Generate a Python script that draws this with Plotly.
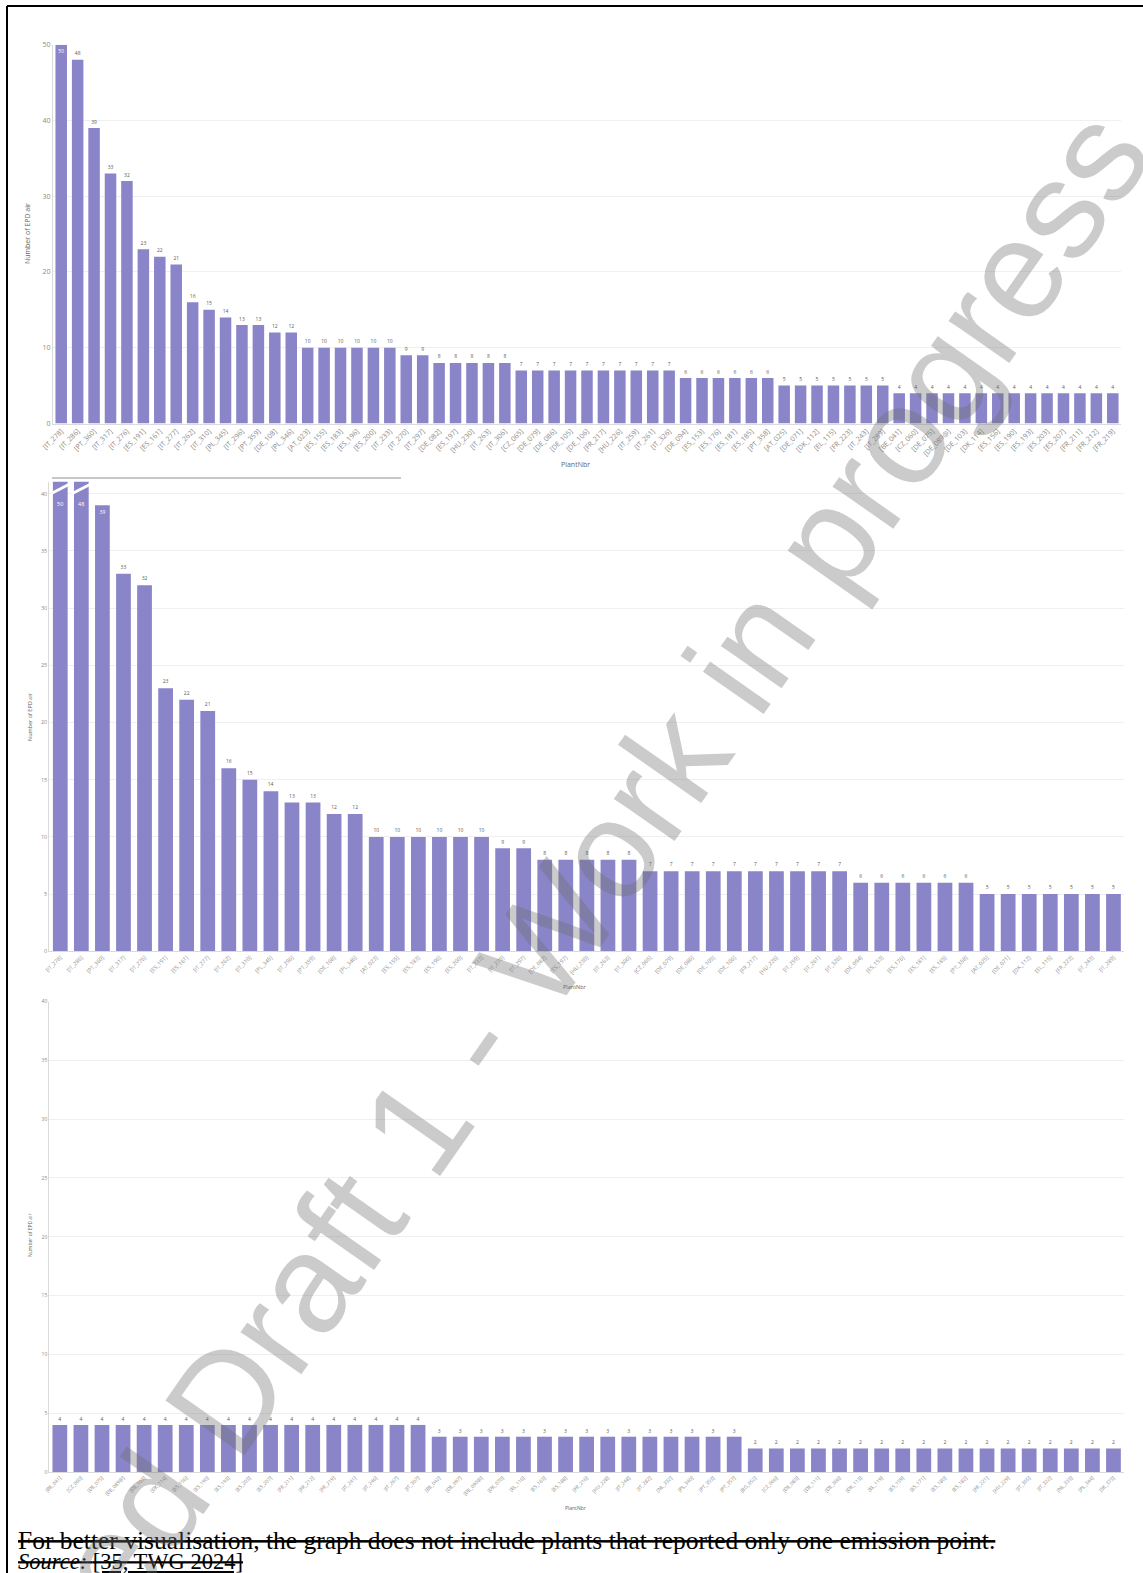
import plotly.graph_objects as go

W, H = 1143, 1573

# ---------------- data ----------------
p1_plants = ["[IT_278]", "[IT_286]", "[PT_360]", "[IT_317]", "[IT_276]", "[ES_191]", "[ES_161]", "[IT_277]",
             "[IT_262]", "[IT_310]", "[PL_345]", "[IT_296]", "[PT_359]", "[DE_108]", "[PL_346]", "[AT_023]",
             "[ES_155]", "[ES_183]", "[ES_196]", "[ES_200]", "[IT_233]", "[IT_270]", "[IT_297]", "[DE_082]",
             "[ES_197]", "[HU_230]", "[IT_263]", "[IT_306]", "[CZ_065]", "[DE_079]", "[DE_086]", "[DE_105]",
             "[DE_106]", "[FR_217]", "[HU_226]", "[IT_259]", "[IT_261]", "[IT_326]", "[DE_094]", "[ES_153]",
             "[ES_176]", "[ES_181]", "[ES_185]", "[PT_358]", "[AT_025]", "[DE_071]", "[DK_112]", "[EL_115]",
             "[FR_223]", "[IT_243]", "[IT_289]", "[BE_041]", "[CZ_060]", "[DE_075]", "[DE_089@]", "[DE_103]",
             "[DK_114]", "[ES_156]", "[ES_190]", "[ES_193]", "[ES_203]", "[ES_207]", "[FR_211]", "[FR_212]",
             "[FR_219]"]
p1_values = [50, 48, 39, 33, 32, 23, 22, 21, 16, 15, 14, 13, 13, 12, 12,
             10, 10, 10, 10, 10, 10,
             9, 9,
             8, 8, 8, 8, 8,
             7, 7, 7, 7, 7, 7, 7, 7, 7, 7,
             6, 6, 6, 6, 6, 6,
             5, 5, 5, 5, 5, 5, 5,
             4, 4, 4, 4, 4, 4, 4, 4, 4, 4, 4, 4, 4, 4]

p2_plants = ["[IT_278]", "[IT_286]", "[PT_360]", "[IT_317]", "[IT_276]", "[ES_191]", "[ES_161]", "[IT_277]",
             "[IT_262]", "[IT_310]", "[PL_345]", "[IT_296]", "[PT_359]", "[DE_108]", "[PL_346]", "[AT_023]",
             "[ES_155]", "[ES_183]", "[ES_196]", "[ES_200]", "[IT_233]", "[IT_270]", "[IT_297]", "[DE_082]",
             "[ES_197]", "[HU_230]", "[IT_263]", "[IT_306]", "[CZ_065]", "[DE_079]", "[DE_086]", "[DE_105]",
             "[DE_106]", "[FR_217]", "[HU_226]", "[IT_259]", "[IT_261]", "[IT_326]", "[DE_094]", "[ES_153]",
             "[ES_176]", "[ES_181]", "[ES_185]", "[PT_358]", "[AT_025]", "[DE_071]", "[DK_112]", "[EL_115]",
             "[FR_223]", "[IT_243]", "[IT_289]"]
p2_values = [50, 48, 39, 33, 32, 23, 22, 21, 16, 15, 14, 13, 13, 12, 12,
             10, 10, 10, 10, 10, 10,
             9, 9,
             8, 8, 8, 8, 8,
             7, 7, 7, 7, 7, 7, 7, 7, 7, 7,
             6, 6, 6, 6, 6, 6,
             5, 5, 5, 5, 5, 5, 5]

p3_plants = ["[BE_041]", "[CZ_060]", "[DE_075]", "[DE_089@]", "[DE_103]", "[DK_114]", "[ES_156]", "[ES_190]",
             "[ES_193]", "[ES_203]", "[ES_207]", "[FR_211]", "[FR_212]", "[FR_219]", "[IT_241]", "[IT_246]",
             "[IT_267]", "[IT_307]",
             "[BE_042]", "[DE_097]", "[DE_090@]", "[DK_070]", "[EL_116]", "[ES_163]", "[ES_188]", "[FR_216]",
             "[HU_228]", "[IT_248]", "[IT_282]", "[NL_332]", "[PL_340]", "[PT_353]", "[PT_357]",
             "[BG_052]", "[CZ_066]", "[DE_083]", "[DE_111]", "[DE_366]", "[DK_113]", "[EL_119]", "[ES_159]",
             "[ES_171]", "[ES_180]", "[ES_182]", "[FR_221]", "[HU_229]", "[IT_305]", "[IT_322]", "[NL_333]",
             "[PL_344]", "[SK_373]"]
p3_values = [4] * 18 + [3] * 15 + [2] * 18

y_title = "Number of EPD air"
x_title = "PlantNbr"
note_line = "For better visualisation, the graph does not include plants that reported only one emission point."
source_label = "Source:"
source_ref = "[35, TWG 2024]"
watermark = "Revised Draft 1 - Work in progress"

# ---------------- style ----------------
BAR = "#8985C8"
GRID = "#EFEFEF"
AXLINE = "#DADADA"
TICKC = "#8A8A8A"
LABC = "#5A5A5A"
FONT = "Open Sans"


def fx(px):
    return px / W


def fy(py):
    return 1 - py / H


fig = go.Figure()
annotations = []
shapes = []


def add_panel(idx, plants, values, xdom, ydom, yrange, dtick, n_inside, fs_tick, fs_lab):
    xa = "x" if idx == 1 else f"x{idx}"
    ya = "y" if idx == 1 else f"y{idx}"
    ymax = yrange[1]
    texts, pos = [], []
    for i, v in enumerate(values):
        if v > ymax:
            texts.append("")
            pos.append("none")
            annotations.append(dict(x=plants[i], y=ymax, xref=xa, yref=ya, text=str(v),
                                    showarrow=False, xanchor="center", yanchor="top", yshift=-16,
                                    font=dict(size=fs_lab, color="white", family=FONT)))
            shapes.append(dict(type="line", xref=xa, yref=ya,
                               x0=i - 0.45, x1=i + 0.45,
                               y0=ymax - 1.05, y1=ymax - 0.2,
                               line=dict(color="white", width=3)))
        else:
            texts.append(str(v))
            pos.append("inside" if i < n_inside else "outside")
    fig.add_trace(go.Bar(
        x=plants, y=values, xaxis=xa, yaxis=ya,
        marker=dict(color=BAR, line=dict(width=0)),
        text=texts, textposition=pos, textangle=0,
        insidetextanchor="end",
        insidetextfont=dict(size=fs_lab, color="white", family=FONT),
        outsidetextfont=dict(size=fs_lab, color=LABC, family=FONT),
        cliponaxis=False if idx != 2 else True,
        constraintext="none",
        showlegend=False, hoverinfo="x+y",
    ))
    lay_x = dict(domain=[fx(xdom[0]), fx(xdom[1])], anchor=ya, type="category",
                 tickangle=-45, tickfont=dict(size=fs_tick, color=TICKC, family=FONT),
                 showgrid=False, showline=True, linecolor=AXLINE, linewidth=1,
                 ticks="", zeroline=False, fixedrange=True, automargin=False)
    lay_y = dict(domain=[fy(ydom[1]), fy(ydom[0])], anchor=xa, range=list(yrange),
                 dtick=dtick, tick0=0, tickfont=dict(size=fs_tick, color=TICKC, family=FONT),
                 showgrid=True, gridcolor=GRID, gridwidth=1,
                 showline=True, linecolor=AXLINE, linewidth=1,
                 zeroline=False, ticks="", fixedrange=True, automargin=False)
    fig.update_layout(**{("xaxis" if idx == 1 else f"xaxis{idx}"): lay_x,
                         ("yaxis" if idx == 1 else f"yaxis{idx}"): lay_y})


add_panel(1, p1_plants, p1_values, (53, 1121), (44.7, 423.5), (0, 50), 10, 1, 7, 7)
add_panel(2, p2_plants, p2_values, (49.3, 1124), (481.7, 951.3), (0, 41.05), 5, 3, 5.5, 5.5)
add_panel(3, p3_plants, p3_values, (49.3, 1124), (1001.5, 1472), (0, 40), 5, 0, 5, 5)

# axis titles
for (xp, yp, fs) in [(28, 234, 7), (30, 717, 5.5), (30, 1236, 5)]:
    annotations.append(dict(x=fx(xp), y=fy(yp), xref="paper", yref="paper", text=y_title,
                            textangle=-90, showarrow=False, xanchor="center", yanchor="middle",
                            font=dict(size=fs, color="#666", family=FONT)))
for (xp, yp, fs) in [(575, 465, 7), (575, 987, 5.5), (575, 1508, 5)]:
    annotations.append(dict(x=fx(xp), y=fy(yp), xref="paper", yref="paper", text=x_title,
                            showarrow=False, xanchor="center", yanchor="middle",
                            font=dict(size=fs, color="#666", family=FONT)))

# footer
annotations.append(dict(x=fx(17), y=fy(1540), xref="paper", yref="paper", xanchor="left", yanchor="middle",
                        text=f"<s>{note_line}</s>", showarrow=False, borderpad=0,
                        font=dict(size=25.5, color="black", family="Liberation Serif")))
annotations.append(dict(x=fx(17), y=fy(1561), xref="paper", yref="paper", xanchor="left", yanchor="middle",
                        text=f"<s><i>{source_label}</i> <u>{source_ref}</u></s>", showarrow=False, borderpad=0,
                        font=dict(size=22.5, color="black", family="Liberation Serif")))

# watermark
annotations.append(dict(x=fx(500), y=fy(1005), xref="paper", yref="paper", text=watermark,
                        textangle=-55, showarrow=False, xanchor="center", yanchor="middle",
                        font=dict(size=140, color="rgba(110,110,110,0.36)", family="Liberation Sans")))

# page frame and scroll indicator
shapes.append(dict(type="line", xref="paper", yref="paper", x0=fx(7), x1=fx(7), y0=0, y1=fy(6),
                   line=dict(color="black", width=2)))
shapes.append(dict(type="line", xref="paper", yref="paper", x0=fx(7), x1=1, y0=fy(6), y1=fy(6),
                   line=dict(color="black", width=2)))
shapes.append(dict(type="line", xref="paper", yref="paper", x0=fx(52), x1=fx(401), y0=fy(478), y1=fy(478),
                   line=dict(color="#C8C8C8", width=2)))

fig.update_layout(
    width=W, height=H, autosize=False,
    margin=dict(l=0, r=0, t=0, b=0),
    paper_bgcolor="white", plot_bgcolor="white",
    bargap=0.3,
    annotations=annotations, shapes=shapes,
    font=dict(family=FONT),
    uniformtext=dict(minsize=4, mode="show"),
)

fig.write_html("out.html", config={"displayModeBar": False},
               post_script="document.body.style.margin='0px';document.body.style.padding='0px';")
